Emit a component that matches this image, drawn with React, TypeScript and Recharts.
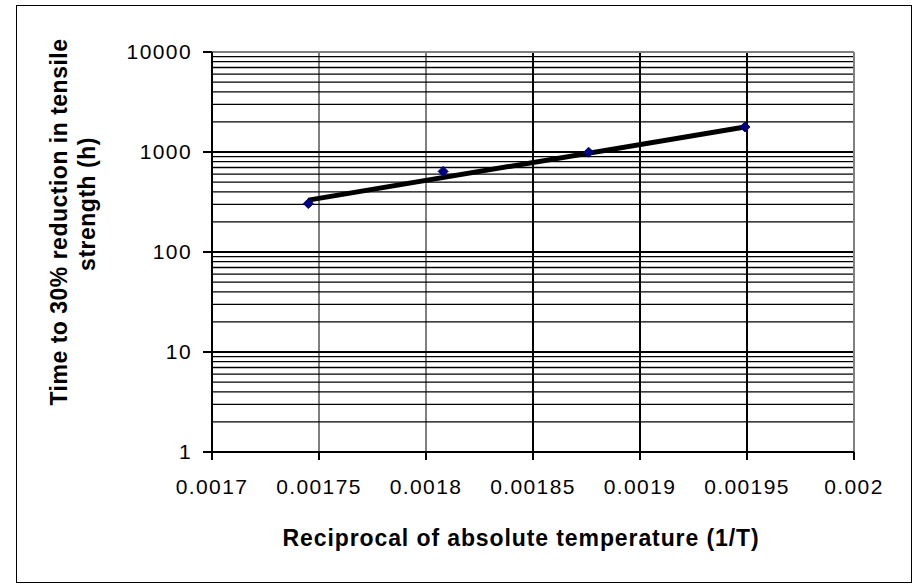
import React from 'react';
import {
  ScatterChart,
  Scatter,
  XAxis,
  YAxis,
  ZAxis,
  ReferenceLine,
} from 'recharts';

// measured points: 1/T vs hours to 30% loss
const recipTemp = [0.001745, 0.001808, 0.001876, 0.001949];
const hours = [305, 640, 995, 1780];

// exponential trendline ends
const trendRecipTemp = [0.001745, 0.001949];
const trendHours = [330, 1780];

const xTicks = [0.0017, 0.00175, 0.0018, 0.00185, 0.0019, 0.00195, 0.002];
const yTicks = [1, 10, 100, 1000, 10000];
const minorSteps = [2, 3, 4, 5, 6, 7, 8, 9];

const points = recipTemp.map((x, i) => ({ x, y: hours[i] }));
const trend = trendRecipTemp.map((x, i) => ({ x, y: trendHours[i] }));
const minorGrid = yTicks.slice(0, 4).flatMap((d) => minorSteps.map((m) => m * d));

const FONT = '"Liberation Sans", Arial, sans-serif';
const tickStyle = { fontSize: 21, fill: '#000', fontFamily: FONT, letterSpacing: 1.4 };
const titleStyle = { fontSize: 23, fontWeight: 700, fill: '#000', fontFamily: FONT };

function Diamond({ cx, cy }: { cx?: number; cy?: number }) {
  if (cx == null || cy == null) return null;
  const r = 5;
  return (
    <polygon
      points={`${cx},${cy - r} ${cx + r},${cy} ${cx},${cy + r} ${cx - r},${cy}`}
      fill="#000080"
      stroke="#000080"
    />
  );
}

const NoDot = () => null;

function YTitle() {
  return (
    <g style={titleStyle}>
      <text x={67} y={222} transform="rotate(-90, 67, 222)" textAnchor="middle" letterSpacing={0.5}>
        Time to 30% reduction in tensile
      </text>
      <text x={95} y={204} transform="rotate(-90, 95, 204)" textAnchor="middle" letterSpacing={0.5}>
        strength (h)
      </text>
    </g>
  );
}

function XTitle() {
  return (
    <text x={521} y={546} textAnchor="middle" letterSpacing={0.9} style={titleStyle}>
      Reciprocal of absolute temperature (1/T)
    </text>
  );
}

export default function App() {
  return (
    <div style={{ position: 'absolute', left: 0, top: 0, width: 919, height: 586, background: '#fff' }}>
      <div
        style={{
          position: 'absolute',
          left: 16,
          top: 5,
          width: 894,
          height: 576,
          border: '1px solid #000',
        }}
      />
      <div style={{ position: 'absolute', left: 0, top: 0 }}>
        <ScatterChart width={919} height={586} margin={{ top: 52, right: 65, bottom: 74, left: 122 }}>
          <XAxis
            type="number"
            dataKey="x"
            domain={[0.0017, 0.002]}
            ticks={xTicks}
            tickFormatter={(v: number) => String(v)}
            height={60}
            tickSize={8}
            tickMargin={19}
            tick={tickStyle}
            axisLine={{ stroke: '#000', strokeWidth: 2 }}
            tickLine={{ stroke: '#000', strokeWidth: 2 }}
            allowDataOverflow
            label={{ content: () => <XTitle /> }}
          />
          <YAxis
            type="number"
            dataKey="y"
            scale="log"
            domain={[1, 10000]}
            ticks={yTicks}
            tickFormatter={(v: number) => String(v)}
            width={90}
            tickSize={9}
            tickMargin={11}
            tick={tickStyle}
            axisLine={{ stroke: '#000', strokeWidth: 2 }}
            tickLine={{ stroke: '#000', strokeWidth: 2 }}
            allowDataOverflow
            label={{ content: () => <YTitle /> }}
          />
          <ZAxis range={[60, 60]} />
          {minorGrid.map((v) => (
            <ReferenceLine key={'m' + v} y={v} stroke="#000" strokeWidth={1.3} ifOverflow="hidden" />
          ))}
          {yTicks.slice(1, 4).map((v) => (
            <ReferenceLine key={'M' + v} y={v} stroke="#000" strokeWidth={2} />
          ))}
          {xTicks.slice(1, 6).map((v, i) => (
            <ReferenceLine key={'v' + v} x={v} stroke="#000" strokeWidth={i < 2 ? 1 : 2} />
          ))}
          <ReferenceLine y={10000} stroke="#808080" strokeWidth={2} />
          <ReferenceLine x={0.002} stroke="#808080" strokeWidth={2} />
          <Scatter
            data={trend}
            line={{ stroke: '#000', strokeWidth: 5 }}
            shape={NoDot}
            isAnimationActive={false}
          />
          <Scatter data={points} shape={Diamond} isAnimationActive={false} />
        </ScatterChart>
      </div>
    </div>
  );
}
